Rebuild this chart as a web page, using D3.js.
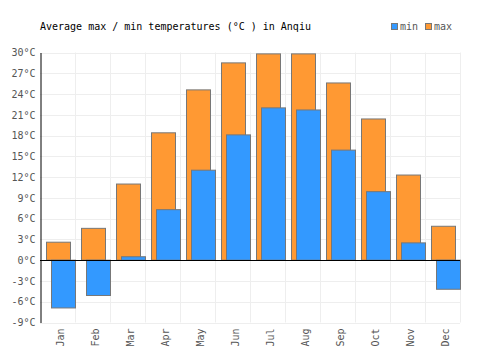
<!DOCTYPE html>
<html lang="en">
<head>
<meta charset="UTF-8">
<title>Average max / min temperatures in Anqiu</title>
<script src="https://cdn.jsdelivr.net/npm/d3@7"></script>
<style>
    body { margin: 0; background: #fff; }
    svg { display: block; }
    svg text { font-family: "DejaVu Sans Mono", monospace; }
    .tick text { fill: #555; font-size: 10px; }
    .grid line { stroke: #eee; }
    .bar { stroke: #777; stroke-width: 1px; }
</style>
</head>
<body>
<div id="chart"></div>
<script>
// Data
const months = ["Jan", "Feb", "Mar", "Apr", "May", "Jun", "Jul", "Aug", "Sep", "Oct", "Nov", "Dec"];
const minTemps = [-6.9, -5.1, 0.5, 7.3, 13.0, 18.1, 22.0, 21.7, 15.9, 9.9, 2.5, -4.2];
const maxTemps = [2.6, 4.6, 11.0, 18.4, 24.6, 28.5, 29.8, 29.8, 25.6, 20.4, 12.3, 4.9];
const yTicks = [-9, -6, -3, 0, 3, 6, 9, 12, 15, 18, 21, 24, 27, 30];

const width = 500, height = 350;
const margin = {top: 52.5, right: 40, bottom: 27.5, left: 40};

const svg = d3.select("#chart").append("svg")
    .attr("width", width)
    .attr("height", height);

const x = d3.scaleBand()
    .domain(months)
    .range([margin.left, width - margin.right]);

const y = d3.scaleLinear()
    .domain([-9, 30])
    .range([height - margin.bottom, margin.top]);

// Grid
const grid = svg.append("g").attr("class", "grid");
grid.selectAll(".h")
    .data(yTicks)
    .join("line")
    .attr("x1", margin.left)
    .attr("x2", width - margin.right)
    .attr("y1", d => Math.round(y(d)) + 0.5)
    .attr("y2", d => Math.round(y(d)) + 0.5);
grid.selectAll(".v")
    .data(months)
    .join("line")
    .attr("x1", d => x(d) + x.bandwidth() + 0.5)
    .attr("x2", d => x(d) + x.bandwidth() + 0.5)
    .attr("y1", margin.top)
    .attr("y2", height - margin.bottom);

// Bars: max first, min on top
const maxOff = 6, minOff = 11, barW = 24;
svg.append("g")
    .selectAll("rect")
    .data(maxTemps)
    .join("rect")
    .attr("class", "bar")
    .attr("fill", "#ff9933")
    .attr("x", (d, i) => x(months[i]) + maxOff + 0.5)
    .attr("width", barW)
    .attr("y", d => y(Math.max(0, d)))
    .attr("height", d => Math.abs(y(d) - y(0)));

svg.append("g")
    .selectAll("rect")
    .data(minTemps)
    .join("rect")
    .attr("class", "bar")
    .attr("fill", "#3399ff")
    .attr("x", (d, i) => x(months[i]) + minOff + 0.5)
    .attr("width", barW)
    .attr("y", d => y(Math.max(0, d)))
    .attr("height", d => Math.abs(y(d) - y(0)));

// Zero line
svg.append("line")
    .attr("x1", margin.left)
    .attr("x2", width - margin.right)
    .attr("y1", Math.round(y(0)) + 0.5)
    .attr("y2", Math.round(y(0)) + 0.5)
    .attr("stroke", "#000");

// Y axis
const yAxis = svg.append("g")
    .attr("transform", `translate(${margin.left + 0.5},0)`)
    .call(d3.axisLeft(y).tickValues(yTicks).tickSize(0).tickPadding(5).tickFormat(d => d + "°C"));
yAxis.select(".domain").attr("stroke", "#000");

// X axis
const xAxis = svg.append("g")
    .attr("transform", `translate(0,${height - margin.bottom})`)
    .call(d3.axisBottom(x).tickSize(0).tickPadding(0));
xAxis.select(".domain").remove();
xAxis.selectAll("text")
    .attr("transform", "translate(3,6) rotate(-90)")
    .attr("dy", "0.32em")
    .attr("y", 0)
    .style("text-anchor", "end");

// Title
svg.append("text")
    .attr("x", 40)
    .attr("y", 30)
    .attr("font-size", 10)
    .attr("fill", "#000")
    .text("Average max / min temperatures (°C ) in Anqiu");

// Legend
const legend = svg.append("g").attr("transform", "translate(391,23)");
[["min", "#3399ff", 0], ["max", "#ff9933", 34]].forEach(([label, col, dx]) => {
    legend.append("rect")
        .attr("x", dx + 0.5).attr("y", 0.5)
        .attr("width", 6).attr("height", 6)
        .attr("fill", col).attr("stroke", "#777");
    legend.append("text")
        .attr("x", dx + 9).attr("y", 7)
        .attr("font-size", 10)
        .attr("fill", "#555")
        .text(label);
});
</script>
</body>
</html>
